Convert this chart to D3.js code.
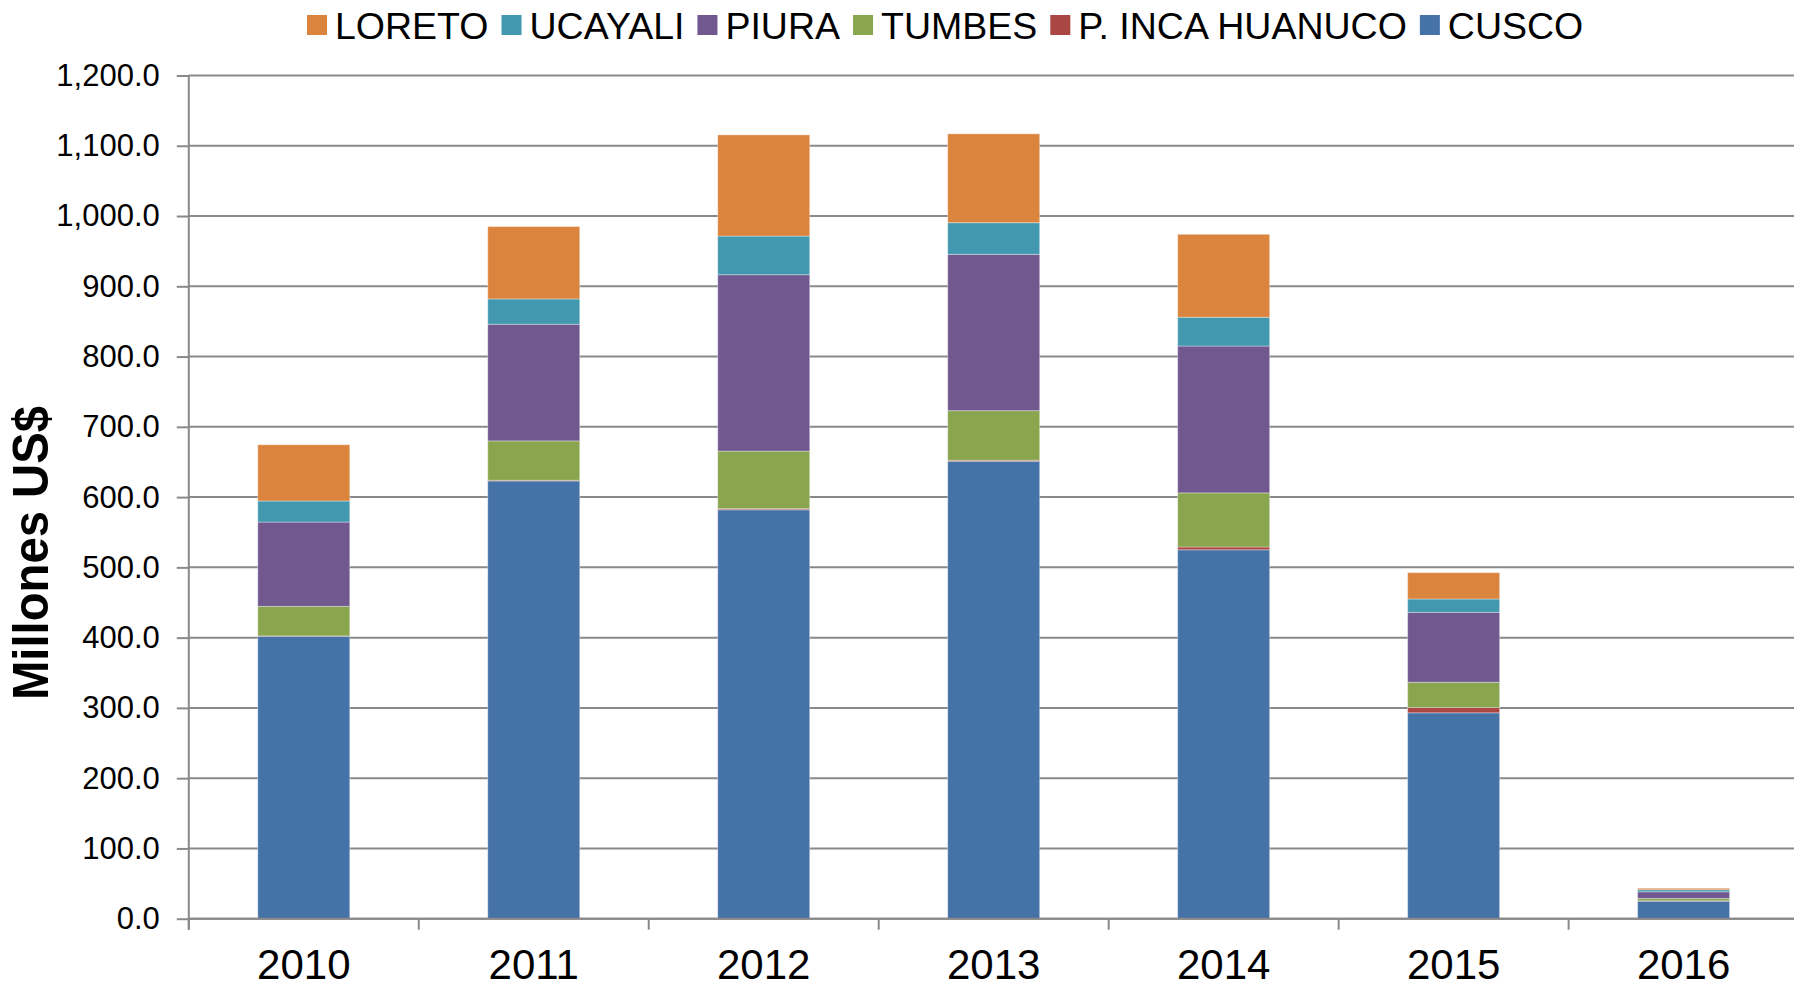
<!DOCTYPE html>
<html>
<head>
<meta charset="utf-8">
<script src="https://cdn.jsdelivr.net/npm/d3@7"></script>
<style>
  body { margin: 0; background: #fff; }
  svg { display: block; font-family: "Liberation Sans", Arial, sans-serif; }
</style>
</head>
<body>
<svg id="chart"></svg>
<script>
// data
const years = ['2010', '2011', '2012', '2013', '2014', '2015', '2016']
const cusco = [402, 623, 582, 651, 525, 293, 25]
const pIncaHuanuco = [0.5, 1, 1.5, 1.5, 4, 7.5, 0.5]
const tumbes = [42, 56, 82, 70.5, 77, 36, 3.3]
const piura = [120, 166, 251, 222.5, 209, 99.5, 9.5]
const ucayali = [30, 36, 55, 45, 41, 19, 3]
const loreto = [80, 103, 144, 126.5, 118, 37.5, 2]
const yTicks = [0, 100, 200, 300, 400, 500, 600, 700, 800, 900, 1000, 1100, 1200]

// stacking order bottom -> top
const series = [
    { name: 'CUSCO', values: cusco, color: '#4572A7' },
    { name: 'P. INCA HUANUCO', values: pIncaHuanuco, color: '#AA4643' },
    { name: 'TUMBES', values: tumbes, color: '#89A54E' },
    { name: 'PIURA', values: piura, color: '#71588F' },
    { name: 'UCAYALI', values: ucayali, color: '#4198AF' },
    { name: 'LORETO', values: loreto, color: '#DB843D' }
]

const width = 1794
const height = 989
const margin = { top: 75.5, bottom: 70.3, left: 188.8, right: -4.6 }

const svg = d3.select('#chart')
    .attr('width', width)
    .attr('height', height)

const rows = years.map((y, i) => {
    let r = { year: y }
    series.forEach(s => { r[s.name] = s.values[i] })
    return r
})
const stacked = d3.stack().keys(series.map(s => s.name))(rows)

const x = d3.scaleBand()
    .domain(years)
    .range([margin.left, width - margin.right])
    .paddingInner(0.6)
    .paddingOuter(0.3)

const y = d3.scaleLinear()
    .domain([0, 1200])
    .range([height - margin.bottom, margin.top])

const gridColor = '#898989'

// gridlines
svg.append('g')
    .selectAll('line')
    .data(yTicks)
    .join('line')
    .attr('x1', margin.left)
    .attr('x2', width)
    .attr('y1', d => y(d))
    .attr('y2', d => y(d))
    .attr('stroke', gridColor)
    .attr('stroke-width', 2)

// y axis
const yAxis = svg.append('g')
    .attr('transform', `translate(${margin.left},0)`)
    .call(d3.axisLeft(y).tickValues(yTicks).tickFormat(d3.format(',.1f')).tickSize(12).tickPadding(17))
yAxis.select('.domain').attr('stroke', gridColor).attr('stroke-width', 2)
    .attr('d', `M0,${y(1200)}V${y(0) + 11}`)
yAxis.selectAll('.tick line').attr('stroke', gridColor).attr('stroke-width', 2)
yAxis.selectAll('.tick text')
    .attr('fill', '#000')
    .style('font-size', '31px')
    .style('font-family', '"Liberation Sans", Arial, sans-serif')

// bars
svg.append('g')
    .selectAll('g')
    .data(stacked)
    .join('g')
    .attr('fill', (d, i) => series[i].color)
    .selectAll('rect')
    .data(d => d)
    .join('rect')
    .attr('x', d => x(d.data.year))
    .attr('width', x.bandwidth())
    .attr('y', d => y(d[1]))
    .attr('height', d => Math.max(0, y(d[0]) - y(d[1])))
    .attr('stroke', 'rgba(255,255,255,0.35)')
    .attr('stroke-width', 1)

// x axis
const step = x.step()
const bounds = d3.range(years.length + 1).map(i => margin.left + i * step)
const xAxis = svg.append('g')
xAxis.append('line')
    .attr('x1', margin.left)
    .attr('x2', width)
    .attr('y1', y(0))
    .attr('y2', y(0))
    .attr('stroke', gridColor)
    .attr('stroke-width', 2)
xAxis.selectAll('.xtick')
    .data(bounds)
    .join('line')
    .attr('class', 'xtick')
    .attr('x1', d => d)
    .attr('x2', d => d)
    .attr('y1', y(0))
    .attr('y2', y(0) + 11)
    .attr('stroke', gridColor)
    .attr('stroke-width', 2)
xAxis.selectAll('text')
    .data(years)
    .join('text')
    .attr('x', d => x(d) + x.bandwidth() / 2)
    .attr('y', y(0) + 60)
    .attr('text-anchor', 'middle')
    .style('font-size', '42px')
    .text(d => d)

// y label
svg.append('text')
    .attr('transform', `translate(48,553) rotate(-90)`)
    .attr('text-anchor', 'middle')
    .attr('textLength', 294)
    .attr('lengthAdjust', 'spacingAndGlyphs')
    .style('font-size', '50px')
    .style('font-weight', 'bold')
    .text('Millones US$')

// legend (top series first)
const legend = svg.append('g')
let lx = 307
series.slice().reverse().forEach(s => {
    legend.append('rect')
        .attr('x', lx)
        .attr('y', 15)
        .attr('width', 20)
        .attr('height', 20)
        .attr('fill', s.color)
    const t = legend.append('text')
        .attr('x', lx + 28)
        .attr('y', 39)
        .style('font-size', '37.5px')
        .text(s.name)
    lx += 28 + t.node().getComputedTextLength() + 13
})
</script>
</body>
</html>
